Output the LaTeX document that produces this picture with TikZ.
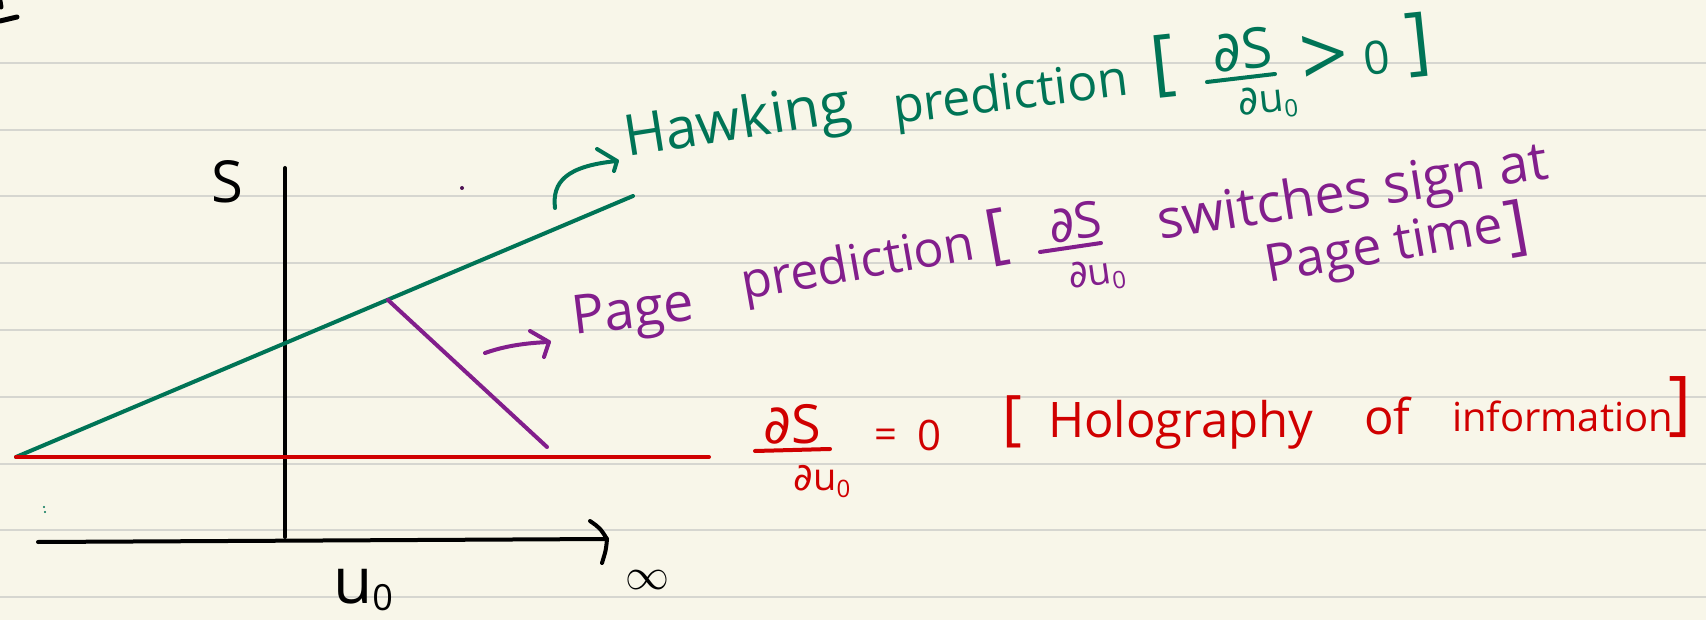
\documentclass[tikz,border=0pt]{standalone}
\usepackage{fontspec}
\setmainfont{Open Sans}
\newfontfamily\dv{DejaVu Sans}
\usepackage{unicode-math}
\setmathfont{Latin Modern Math}
\definecolor{paper}{RGB}{248,246,233}
\definecolor{rulec}{RGB}{214,214,208}
\definecolor{hgreen}{RGB}{0,116,86}
\definecolor{ppurple}{RGB}{130,30,140}
\definecolor{rred}{RGB}{208,0,0}
\newcommand\fsz[1]{\fontsize{#1}{#1}\selectfont}
\newcommand\zerosubsc{\raisebox{-7pt}{\fontsize{24}{24}\selectfont 0}}
\begin{document}
\begin{tikzpicture}[x=1pt,y=-1pt,
  paperline/.style={draw=rulec, line width=2pt},
  pen/.style={line width=4pt, line cap=round, line join=round},
  txt/.style={inner sep=0pt, outer sep=0pt},
  gtxt/.style={txt, text=hgreen},
  ptxt/.style={txt, text=ppurple},
  rtxt/.style={txt, text=rred}]
\fill[paper] (0,0) rectangle (1706,620);
\useasboundingbox (0,0) rectangle (1706,620);
\foreach \k in {0,...,8} \draw[paperline] (0,{63+66.75*\k}) -- (1706,{63+66.75*\k});
% corner mark and specks
\coordinate (cm1) at (0,21); \coordinate (cm2) at (17,17);
\coordinate (cm3) at (0,1); \coordinate (cm4) at (1,7);
\draw[pen, black, line width=5pt] (cm1) -- (cm2);
\draw[pen, black, line width=5pt] (cm3) -- (cm4);
\fill[ppurple!60!black] (462,188) circle (2);
\fill[hgreen] (44,507) circle (1.2);
\fill[hgreen] (45,512) circle (1.2);
% axes
\coordinate (ybot) at (285,537); \coordinate (ytop) at (285,168);
\coordinate (xl) at (38,542); \coordinate (xr) at (607,539);
\coordinate (xa1) at (590,521); \coordinate (xa2) at (602,563);
\draw[pen, black] (ybot) -- (ytop);
\draw[pen, black] (xl) -- (xr);
\draw[pen, black] (xa1) .. controls (600,528) .. (xr) .. controls (606,550) .. (xa2);
\node[txt, font=\fsz{58}] (S) at (227,182) {S};
\node[txt, font=\fsz{64}, anchor=base west] (u0) at (333,603) {u\raisebox{-7pt}{\fontsize{36}{36}\selectfont 0}};
\node[txt, font=\fsz{44}] (inf) at (647,580) {$\infty$};
% graph lines
\coordinate (O) at (16,457);
\coordinate (G) at (633,196);
\coordinate (R) at (709,457);
\coordinate (P1) at (388,300);
\coordinate (P2) at (547,447);
\draw[pen, hgreen] (O) -- (G);
\draw[pen, rred] (O) -- (R);
\draw[pen, ppurple] (P1) -- (P2);
% Hawking
\coordinate (ha0) at (555,208); \coordinate (ha1) at (617,161);
\coordinate (ha2) at (597,149); \coordinate (ha3) at (614,171);
\draw[pen, hgreen] (ha0) .. controls (552,182) and (566,166) .. (ha1);
\draw[pen, hgreen] (ha2) -- (ha1) -- (ha3);
\node[gtxt, font=\fsz{57}, anchor=base west, rotate=9] (hk1) at (627,157) {Hawking};
\node[gtxt, font=\fsz{50}, anchor=base west, rotate=7] (hk2) at (895,124) {prediction};
\node[gtxt, font=\fsz{72}, rotate=6] (hkl) at (1163,66) {[};
\node[gtxt, font=\fsz{56}, rotate=6] (hkn) at (1242,50) {{\dv ∂}S};
\coordinate (hb1) at (1207,82); \coordinate (hb2) at (1275,74);
\draw[pen, hgreen] (hb1) -- (hb2);
\node[gtxt, font=\fsz{40}, rotate=6] (hkd) at (1268,103) {{\dv ∂}u\zerosubsc};
\node[gtxt, font=\fsz{84}, rotate=6] (hkg) at (1325,60) {>};
\node[gtxt, font=\fsz{46}, rotate=6] (hk0) at (1377,58) {0};
\node[gtxt, font=\fsz{74}, rotate=6] (hkr) at (1418,45) {]};
% Page
\coordinate (pa0) at (485,353); \coordinate (pa1) at (549,342);
\coordinate (pa2) at (530,331); \coordinate (pa3) at (544,357);
\draw[pen, ppurple] (pa0) .. controls (505,346) and (525,343) .. (pa1);
\draw[pen, ppurple] (pa2) -- (pa1) -- (pa3);
\node[ptxt, font=\fsz{54}, anchor=base west, rotate=7] (pg1) at (574,335) {Page};
\node[ptxt, font=\fsz{50}, anchor=base west, rotate=10] (pg2) at (744,300) {prediction};
\node[ptxt, font=\fsz{66}, rotate=10] (pgl) at (997,238) {[};
\node[ptxt, font=\fsz{50}, rotate=8] (pgn) at (1075,222) {{\dv ∂}S};
\coordinate (pb1) at (1040,252); \coordinate (pb2) at (1101,243);
\draw[pen, ppurple] (pb1) -- (pb2);
\node[ptxt, font=\fsz{38}, rotate=8] (pgd) at (1097,276) {{\dv ∂}u\zerosubsc};
\node[ptxt, font=\fsz{54}, anchor=base west, rotate=9] (pg3) at (1160,240) {switches sign at};
\node[ptxt, font=\fsz{52}, anchor=base west, rotate=10] (pg4) at (1268,283) {Page time};
\node[ptxt, font=\fsz{66}, rotate=10] (pgr) at (1517,229) {]};
% Red
\node[rtxt, font=\fsz{54}] (rdn) at (792,424) {{\dv ∂}S};
\coordinate (rb1) at (755,451); \coordinate (rb2) at (830,449);
\draw[pen, rred] (rb1) -- (rb2);
\node[rtxt, font=\fsz{38}] (rdd) at (822,482) {{\dv ∂}u\zerosubsc};
\node[rtxt, font=\fsz{40}] (rde) at (886,439) {=};
\node[rtxt, font=\fsz{42}] (rd0) at (929,435) {0};
\node[rtxt, font=\fsz{60}] (rdl) at (1012,422) {[};
\node[rtxt, font=\fsz{49}, anchor=base west] (rh1) at (1048,437) {Holography};
\node[rtxt, font=\fsz{49}, anchor=base west] (rh2) at (1364,434) {of};
\node[rtxt, font=\fsz{40}, anchor=base west] (rh3) at (1452,431) {information};
\node[rtxt, font=\fsz{70}] (rdr) at (1680,407) {]};
\end{tikzpicture}
\end{document}
